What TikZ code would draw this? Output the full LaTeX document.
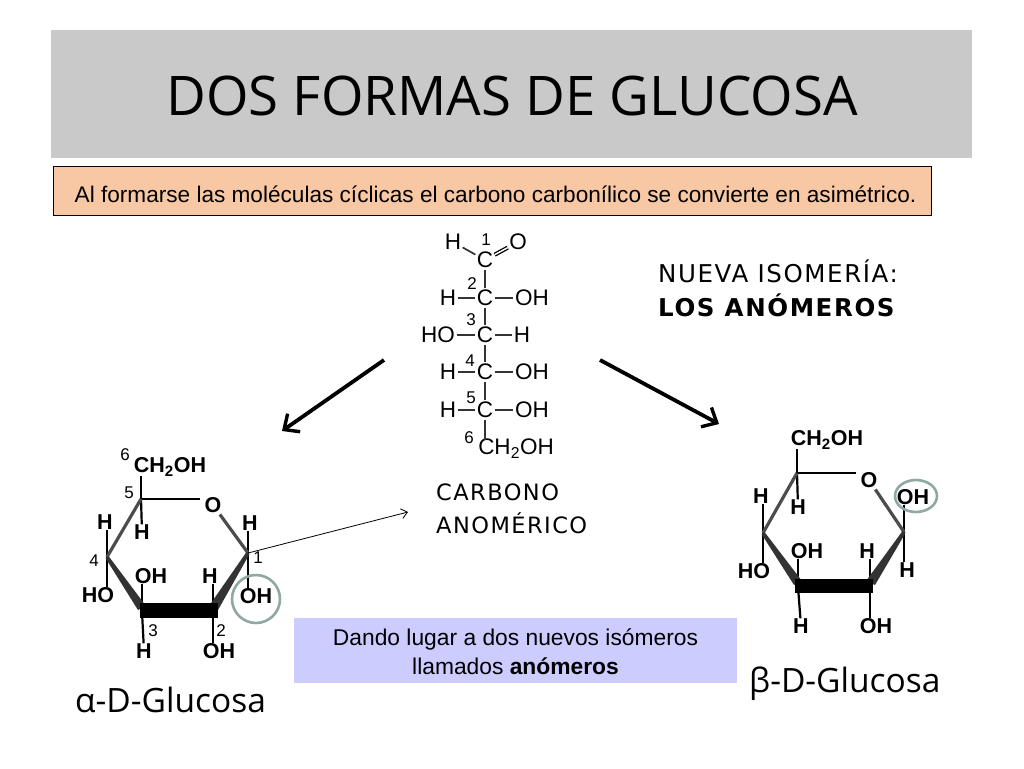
\documentclass[tikz,border=0pt]{standalone}
\usepackage{fontspec}
\setmainfont{Liberation Sans}
\newfontfamily\titlefont{Open Sans}
\newfontfamily\labelfont[LetterSpace=6.5]{DejaVu Sans}
\usetikzlibrary{arrows.meta,calc}

\tikzset{
  atom/.style={inner sep=0pt,font=\fontsize{22.5}{22.5}\selectfont},
  batom/.style={inner sep=0pt,font=\fontsize{21.5}{21.5}\selectfont\bfseries},
  num/.style={inner sep=0pt,font=\fontsize{17}{17}\selectfont},
  bond/.style={line width=1.7pt,draw=black!80,shorten >=1.5pt,shorten <=1.5pt},
  stem/.style={line width=2.2pt},
  ringback/.style={line width=3.2pt,draw=black!70},
  wedgefill/.style={fill=black!80},
  barfill/.style={fill=black},
  sidetext/.style={inner sep=0pt,anchor=west,font=\labelfont\fontsize{24.5}{24.5}\selectfont},
  sugarname/.style={inner sep=0pt,anchor=west,font=\titlefont\fontsize{33.5}{33.5}\selectfont},
  markcircle/.style={line width=2.6pt,draw=markgrey},
  bigarrow/.style={line width=3.8pt,-{Straight Barb[length=12pt,width=22pt,line width=3.4pt]}}
}
\definecolor{headgrey}{HTML}{C9C9C9}
\definecolor{notefill}{HTML}{F8C8A4}
\definecolor{lilac}{HTML}{CCCCFF}
\definecolor{markgrey}{HTML}{8FA8A3}

\begin{document}
\begin{tikzpicture}[x=1pt,y=-1pt]
    \useasboundingbox (0,0) rectangle (1024,768);
    \fill[white] (0,0) rectangle (1024,768);

    % Header
    \node[fill=headgrey,minimum width=921pt,minimum height=128pt,inner sep=0pt] (header) at (511.5,94) {};
    \node[font=\titlefont\fontsize{54.6}{54.6}\selectfont] (title) at (512,96) {DOS FORMAS DE GLUCOSA};

    % Note
    \node[draw=black,fill=notefill,line width=0.8pt,minimum width=878pt,minimum height=49pt,inner sep=0pt] (note) at (492,190.5) {};
    \node[inner sep=0pt,font=\fontsize{22.6}{22.6}\selectfont] (notetext) at (495.5,194) {Al formarse las moléculas cíclicas el carbono carbonílico se convierte en asimétrico.};

    % Open chain
    \node[atom] (c1) at (485,260) {C};
    \node[atom] (h1) at (453,242) {H};
    \node[atom] (o1) at (518,242) {O};
    \node[num] (n1) at (486,240) {1};
    \node[atom] (c2) at (485,298) {C};
    \node[atom] (h2) at (448,298) {H};
    \node[atom] (oh2) at (532,298) {OH};
    \node[num] (n2) at (472,284) {2};
    \node[atom] (c3) at (485,335) {C};
    \node[atom] (ho3) at (438,335) {HO};
    \node[atom] (h3) at (522,335) {H};
    \node[num] (n3) at (471,320) {3};
    \node[atom] (c4) at (485,372) {C};
    \node[atom] (h4) at (448,372) {H};
    \node[atom] (oh4) at (532,372) {OH};
    \node[num] (n4) at (470,361) {4};
    \node[atom] (c5) at (485,410) {C};
    \node[atom] (h5) at (448,410) {H};
    \node[atom] (oh5) at (532,410) {OH};
    \node[num] (n5) at (471,398) {5};
    \node[atom] (c6) at (516,449) {CH\textsubscript{2}OH};
    \node[num] (n6) at (469,438) {6};
    \coordinate (c6top) at (485,441);
    \draw[bond] (h1) -- (c1);
    \draw[line width=1.3pt,double,double distance=1.5pt,shorten >=1.5pt,shorten <=1.5pt] (c1) -- (o1);
    \draw[bond] (c1) -- (c2);
    \draw[bond] (c2) -- (c3);
    \draw[bond] (c3) -- (c4);
    \draw[bond] (c4) -- (c5);
    \draw[bond] (c5) -- (c6top);
    \draw[bond] (h2) -- (c2);
    \draw[bond] (c2) -- (oh2);
    \draw[bond] (ho3) -- (c3);
    \draw[bond] (c3) -- (h3);
    \draw[bond] (h4) -- (c4);
    \draw[bond] (c4) -- (oh4);
    \draw[bond] (h5) -- (c5);
    \draw[bond] (c5) -- (oh5);

    % Nueva isomeria
    \node[sidetext] (nueva) at (658,271) {NUEVA ISOMERÍA:};
    \node[sidetext,font=\labelfont\bfseries\fontsize{24.5}{24.5}\selectfont] (anomeros) at (658,305) {LOS ANÓMEROS};

    % Arrows from the chain
    \coordinate (aleftstart) at (384,360);
    \coordinate (aleftend) at (282,431);
    \coordinate (arightstart) at (600,360);
    \coordinate (arightend) at (719,424);
    \draw[bigarrow] (aleftstart) -- (aleftend);
    \draw[bigarrow] (arightstart) -- (arightend);

    % Alpha ring
    \coordinate (a1) at (248,553);
    \coordinate (a2) at (213,612);
    \coordinate (a3) at (142,612);
    \coordinate (a4) at (107,557);
    \coordinate (a5) at (141,499);
    \node[batom] (ao) at (213,505) {O};
    \node[batom] (ach) at (170,467) {CH\textsubscript{2}OH};
    \node[batom] (ah5) at (142,532) {H};
    \node[batom] (ah4) at (105,522) {H};
    \node[batom] (aho4) at (98,595) {HO};
    \node[batom] (aoh3) at (151,576) {OH};
    \node[batom] (ah3) at (144,651) {H};
    \node[batom] (ah2) at (210,576) {H};
    \node[batom] (aoh2) at (219,651) {OH};
    \node[batom] (ah1) at (250,523) {H};
    \node[batom] (aoh1) at (256,596) {OH};
    \node[num] (an1) at (258,558) {1};
    \node[num] (an2) at (221,631) {2};
    \node[num] (an3) at (153,631) {3};
    \node[num] (an4) at (94,561) {4};
    \node[num] (an5) at (129,493) {5};
    \node[num] (an6) at (125,455) {6};
    \draw[stem] (a5) -- (a5 |- ach.south);
    \draw[stem] (a5) -- (ah5);
    \draw[stem] (a4) -- (a4 |- ah4.south);
    \draw[stem] (a4) -- (a4 |- aho4.north);
    \draw[stem] (a3) -- (a3 |- aoh3.south);
    \draw[stem] (a3) -- (ah3);
    \draw[stem] (a2) -- (a2 |- ah2.south);
    \draw[stem] (a2) -- (a2 |- aoh2.north);
    \draw[stem] (a1) -- (a1 |- ah1.south);
    \draw[stem] (a1) -- (a1 |- aoh1.north);
    \draw[line width=2.6pt,shorten >=4pt] (a5) -- (a5 -| ao.west);
    \draw[ringback,shorten <=2pt] (ao) -- (a1);
    \draw[ringback] (a5) -- (a4);
    \fill[wedgefill] ($(a1)+(-1.5,-1)$) -- ($(a1)+(1.5,1)$) -- ($(a2)+(5,-2)$) -- ($(a2)+(-4,-6)$) -- cycle;
    \fill[wedgefill] ($(a4)+(1.5,-1)$) -- ($(a4)+(-1.5,1)$) -- ($(a3)+(-4,-2)$) -- ($(a3)+(4,-6)$) -- cycle;
    \fill[barfill] (140,603) rectangle (218,618);
    \draw[markcircle] (aoh1) ++(0,3) circle[radius=24pt];

    % Beta ring
    \coordinate (b1) at (904,532);
    \coordinate (b2) at (870,587);
    \coordinate (b3) at (798,587);
    \coordinate (b4) at (763,533);
    \coordinate (b5) at (797,473);
    \node[batom] (bo) at (869,480) {O};
    \node[batom] (bch) at (827,440) {CH\textsubscript{2}OH};
    \node[batom] (bh5) at (798,507) {H};
    \node[batom] (bh4) at (761,496) {H};
    \node[batom] (bho4) at (754,571) {HO};
    \node[batom] (boh3) at (807,551) {OH};
    \node[batom] (bh3) at (801,626) {H};
    \node[batom] (bh2) at (867,551) {H};
    \node[batom] (boh2) at (876,626) {OH};
    \node[batom] (boh1) at (913,497) {OH};
    \node[batom] (bh1) at (907,570) {H};
    \draw[stem] (b5) -- (b5 |- bch.south);
    \draw[stem] (b5) -- (bh5);
    \draw[stem] (b4) -- (b4 |- bh4.south);
    \draw[stem] (b4) -- (b4 |- bho4.north);
    \draw[stem] (b3) -- (b3 |- boh3.south);
    \draw[stem] (b3) -- (bh3);
    \draw[stem] (b2) -- (b2 |- bh2.south);
    \draw[stem] (b2) -- (b2 |- boh2.north);
    \draw[stem] (b1) -- (b1 |- boh1.south);
    \draw[stem] (b1) -- (b1 |- bh1.north);
    \draw[line width=2.6pt,shorten >=4pt] (b5) -- (b5 -| bo.west);
    \draw[ringback,shorten <=2pt] (bo) -- (b1);
    \draw[ringback] (b5) -- (b4);
    \fill[wedgefill] ($(b1)+(-1.5,-1)$) -- ($(b1)+(1.5,1)$) -- ($(b2)+(5,-2)$) -- ($(b2)+(-4,-6)$) -- cycle;
    \fill[wedgefill] ($(b4)+(1.5,-1)$) -- ($(b4)+(-1.5,1)$) -- ($(b3)+(-4,-2)$) -- ($(b3)+(4,-6)$) -- cycle;
    \fill[barfill] (795,579) rectangle (873,593);
    \draw[markcircle] (916,496) ellipse[x radius=21pt,y radius=16pt];

    % Anomeric carbon
    \node[sidetext,font=\labelfont\fontsize{22.5}{22.5}\selectfont] (carbono) at (436,492) {CARBONO};
    \node[sidetext,font=\labelfont\fontsize{22.5}{22.5}\selectfont] (anomerico) at (436,523) {ANOMÉRICO};
    \coordinate (thinend) at (408,512);
    \draw[line width=0.8pt,-{Straight Barb[length=6pt,width=10pt,line width=0.8pt]}] (a1) -- (thinend);

    % Lilac box
    \node[fill=lilac,minimum width=443pt,minimum height=65pt,inner sep=0pt] (isomeros) at (515.5,650) {};
    \node[inner sep=0pt,align=center,font=\fontsize{22.8}{29}\selectfont] (isomerostext) at (515.5,652) {Dando lugar a dos nuevos isómeros\\llamados \textbf{anómeros}};

    % Names
    \node[sugarname] (alpha) at (75,700) {α-D-Glucosa};
    \node[sugarname] (beta) at (749,684) {β-D-Glucosa};
  \end{tikzpicture}
\end{document}
